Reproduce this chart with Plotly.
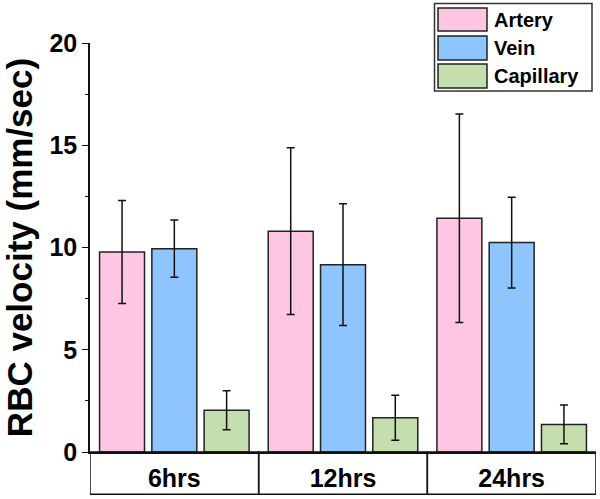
import plotly.graph_objects as go

categories = ["6hrs", "12hrs", "24hrs"]
series_names = ["Artery", "Vein", "Capillary"]
artery = [9.78, 10.80, 11.43]
artery_err = [2.52, 4.08, 5.10]
vein = [9.94, 9.16, 10.24]
vein_err = [1.40, 2.98, 2.22]
capillary = [2.04, 1.68, 1.35]
capillary_err = [0.95, 1.10, 0.95]
colors = ["#FFC6E4", "#8EC5FF", "#C4DEAE"]
y_ticks = [0, 5, 10, 15, 20]

values = [artery, vein, capillary]
errors = [artery_err, vein_err, capillary_err]

FONT = "Liberation Sans, Arial, sans-serif"

fig = go.Figure()
for name, vals, errs, col in zip(series_names, values, errors, colors):
    fig.add_trace(go.Bar(
        x=categories, y=vals, name=name,
        marker=dict(color=col, line=dict(color="#222222", width=1.5)),
        error_y=dict(type="data", array=errs, visible=True,
                     color="#111111", thickness=1.5, width=4),
        showlegend=False,
    ))

# table-style category boxes under the x axis
for i, c in enumerate(categories):
    fig.add_shape(type="rect", xref="x", yref="y domain",
                  x0=i - 0.5, x1=i + 0.5, y0=-0.103, y1=0,
                  line=dict(color="#111111", width=1.5), fillcolor="rgba(0,0,0,0)")

# manual legend (paper coordinates)
def px2x(px):
    return (px - 90) / 506.0

def py2y(py):
    return (452 - py) / 409.0

fig.add_shape(type="rect", xref="paper", yref="paper",
              x0=px2x(434.5), x1=px2x(592), y0=py2y(91), y1=py2y(3.5),
              line=dict(color="#333333", width=1.5), fillcolor="white")
rows = [(8, 31), (36, 60), (64, 88)]
for (t, b), name, col in zip(rows, series_names, colors):
    fig.add_shape(type="rect", xref="paper", yref="paper",
                  x0=px2x(438), x1=px2x(487), y0=py2y(b), y1=py2y(t),
                  line=dict(color="#222222", width=1.5), fillcolor=col)
    fig.add_annotation(xref="paper", yref="paper", x=px2x(492), y=py2y((t + b) / 2),
                       text=f"<b>{name}</b>", showarrow=False, xanchor="left", yanchor="middle",
                       font=dict(family=FONT, size=20, color="black"))

fig.update_layout(
    width=600, height=499,
    margin=dict(l=90, r=4, t=43, b=47, autoexpand=False),
    plot_bgcolor="white", paper_bgcolor="white",
    barmode="group", bargap=0.07, bargroupgap=0.14,
    font=dict(family=FONT, color="black"),
)
fig.update_xaxes(
    range=[-0.5, 2.5], showline=True, linecolor="#111111", linewidth=1.5,
    ticks="", tickfont=dict(family=FONT, size=25, color="black", weight="bold"),
    ticklabelstandoff=3, showgrid=False, zeroline=False, automargin=False,
)
fig.update_yaxes(
    range=[0, 20], tickvals=y_ticks, ticktext=[str(v) for v in y_ticks],
    showline=True, linecolor="#111111", linewidth=1.5,
    ticks="outside", ticklen=6, tickwidth=1.2, tickcolor="#111111",
    minor=dict(dtick=2.5, ticks="outside", ticklen=3.5, tickwidth=1, tickcolor="#111111"),
    tickfont=dict(family=FONT, size=25, color="black", weight="bold"),
    title=dict(text="<b>RBC velocity (mm/sec)</b>", font=dict(family=FONT, size=35, color="black"),
               standoff=6),
    showgrid=False, zeroline=False, automargin=False,
)

fig.write_html("out.html", config={"displayModeBar": False},
               post_script="document.body.style.margin='0';document.body.style.padding='0';")
